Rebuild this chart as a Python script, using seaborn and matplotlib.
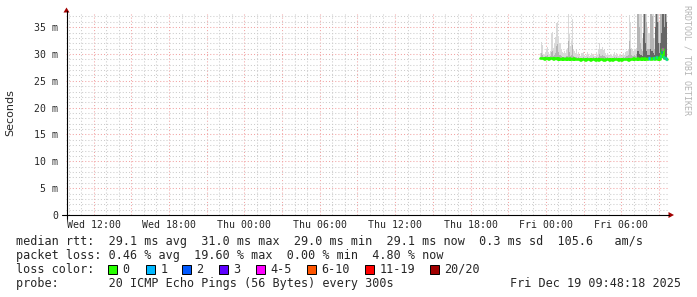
import numpy as np
import matplotlib
matplotlib.use("Agg")
import matplotlib.pyplot as plt
import seaborn as sns
from matplotlib.patches import Rectangle, Polygon
from matplotlib.lines import Line2D

# ---------------- data ----------------
# time axis in hours since Wed 00:00
x_start, x_end = 9.8, 57.8
tick_hours = [12, 15, 18, 21, 24, 27, 30, 33, 36, 39, 42, 45, 48, 51, 54, 57]
tick_labels = ["Wed 12:00", "", "Wed 18:00", "", "Thu 00:00", "", "Thu 06:00", "",
               "Thu 12:00", "", "Thu 18:00", "", "Fri 00:00", "", "Fri 06:00", ""]
y_ticks = [0, 5, 10, 15, 20, 25, 30, 35]
y_labels = ["0", "5 m", "10 m", "15 m", "20 m", "25 m", "30 m", "35 m"]
y_top = 37.45

first_sample = 47.5          # Thu 23:30
sample_step = 5 / 60         # 300 s

median = [29.2, 29.3, 29.2, 29.2, 29.1, 29.2, 29.3, 29.2, 29.1, 29.2, 29.2, 29.3,
          29.2, 29.1, 29.2, 29.3, 29.2, 29.1, 29.2, 29.0, 29.1, 29.2, 29.1, 29.0,
          29.1, 29.2, 29.0, 29.1, 29.2, 29.1, 29.0, 29.1, 29.2, 29.0, 29.1, 29.0,
          29.0, 29.1, 29.0, 28.9, 29.0, 29.1, 29.0, 28.9, 29.0, 29.0, 29.1, 29.0,
          28.9, 29.0, 29.0, 29.1, 29.0, 28.9, 29.0, 29.0, 28.9, 29.0, 29.1, 29.0,
          29.0, 28.9, 29.0, 29.0, 29.1, 29.0, 28.9, 29.0, 29.0, 28.9, 29.0, 29.0,
          29.0, 29.1, 29.0, 28.9, 29.0, 29.0, 28.9, 29.0, 29.0, 29.0, 29.1, 29.0,
          28.9, 29.0, 29.0, 29.1, 29.0, 29.2, 29.1, 29.0, 29.1, 29.2, 29.1, 29.0,
          29.1, 29.2, 29.1, 29.0, 29.2, 29.1, 29.0, 29.1, 29.2, 29.1, 29.0, 29.2,
          29.3, 29.1, 29.2, 29.4, 29.1, 29.2, 29.1, 29.6, 30.4, 31.0, 29.4, 29.2,
          29.2, 29.1]

smoke_max = [30.2, 32.3, 31.6, 30.0, 29.9, 30.4, 31.0, 31.3, 30.3, 30.0, 30.6, 33.9,
             34.1, 31.2, 32.0, 33.2, 35.7, 35.8, 33.4, 32.0, 31.0, 30.3, 30.1, 30.6,
             30.2, 30.8, 31.2, 37.8, 33.8, 31.5, 32.4, 36.5, 31.0, 30.5, 30.1, 30.7,
             30.0, 30.3, 29.8, 29.7, 30.1, 30.4, 29.8, 29.6, 29.9, 30.3, 30.0, 29.7,
             29.8, 30.2, 29.9, 30.0, 29.7, 29.6, 30.3, 29.9, 30.8, 32.0, 31.0, 30.8,
             31.3, 30.8, 30.2, 29.9, 30.1, 29.8, 29.7, 30.0, 29.9, 29.6, 30.0, 30.3,
             29.9, 30.1, 29.8, 29.7, 29.9, 30.0, 29.7, 29.8, 30.2, 29.9, 30.4, 30.6,
             31.0, 37.2, 36.0, 31.2, 30.8, 30.6, 31.0, 30.7, 31.2, 38.0, 38.0, 38.0,
             38.0, 38.0, 33.0, 38.0, 38.0, 38.0, 38.0, 35.0, 34.0, 38.0, 38.0, 38.0,
             38.0, 33.0, 38.0, 38.0, 38.0, 38.0, 36.0, 38.0, 38.0, 38.0, 38.0, 38.0,
             38.0, 38.0]

smoke_p90 = [29.5, 30.2, 29.9, 29.5, 29.4, 29.6, 29.7, 29.8, 29.5, 29.5, 29.6, 30.4,
             30.6, 29.7, 29.9, 30.2, 31.4, 31.8, 30.4, 29.9, 29.6, 29.5, 29.4, 29.5,
             29.5, 29.6, 29.7, 32.5, 30.4, 29.7, 29.9, 31.6, 29.6, 29.5, 29.4, 29.5,
             29.3, 29.4, 29.2, 29.2, 29.3, 29.4, 29.2, 29.1, 29.3, 29.4, 29.3, 29.2,
             29.2, 29.3, 29.3, 29.4, 29.2, 29.1, 29.4, 29.3, 29.5, 30.0, 29.7, 29.6,
             29.8, 29.6, 29.4, 29.3, 29.4, 29.2, 29.2, 29.3, 29.3, 29.1, 29.3, 29.5,
             29.3, 29.4, 29.2, 29.2, 29.3, 29.3, 29.2, 29.2, 29.4, 29.3, 29.5, 29.6,
             29.8, 32.5, 31.0, 29.9, 29.7, 29.7, 29.9, 29.7, 30.0, 38.0, 38.0, 35.0,
             32.0, 31.0, 30.5, 38.0, 38.0, 38.0, 36.0, 31.0, 31.0, 38.0, 38.0, 37.0,
             33.0, 31.0, 38.0, 38.0, 38.0, 36.0, 32.0, 38.0, 38.0, 38.0, 38.0, 38.0,
             38.0, 38.0]

smoke_p75 = [28.9, 28.9, 28.9, 28.9, 28.9, 28.9, 28.9, 28.9, 28.9, 28.9, 28.9, 28.9,
             28.9, 28.9, 28.9, 28.9, 28.9, 28.9, 28.9, 28.9, 28.9, 28.9, 28.9, 28.9,
             28.9, 28.9, 28.9, 28.9, 28.9, 28.9, 28.9, 28.9, 28.9, 28.9, 28.9, 28.9,
             28.9, 28.9, 28.9, 28.9, 28.9, 28.9, 28.9, 28.9, 28.9, 28.9, 28.9, 28.9,
             28.9, 28.9, 28.9, 28.9, 28.9, 28.9, 28.9, 28.9, 28.9, 28.9, 28.9, 28.9,
             28.9, 28.9, 28.9, 28.9, 28.9, 28.9, 28.9, 28.9, 28.9, 28.9, 28.9, 28.9,
             28.9, 28.9, 28.9, 28.9, 28.9, 28.9, 28.9, 28.9, 28.9, 28.9, 28.9, 28.9,
             28.9, 28.9, 28.9, 28.9, 28.9, 28.9, 28.9, 28.9, 28.9, 30.5, 30.5, 30.0,
             29.8, 29.8, 29.6, 34.0, 38.0, 32.0, 30.5, 29.8, 29.8, 31.0, 30.5, 30.5,
             30.2, 29.8, 35.0, 38.0, 36.0, 32.0, 30.2, 32.0, 34.0, 38.0, 38.0, 35.0,
             38.0, 36.0]

loss = [0, 0, 0, 0, 0, 0, 0, 0, 0, 0, 0, 0, 0, 0, 0, 0, 0, 0, 0, 0, 0, 0, 0, 0,
        0, 0, 0, 0, 0, 0, 0, 0, 0, 0, 0, 0, 0, 0, 0, 0, 0, 0, 0, 0, 0, 0, 0, 0,
        0, 0, 0, 0, 0, 0, 0, 0, 0, 0, 0, 0, 0, 0, 0, 0, 0, 0, 0, 0, 0, 0, 0, 0,
        0, 0, 0, 0, 0, 0, 0, 0, 0, 0, 0, 0, 0, 0, 0, 0, 0, 0, 0, 0, 0, 0, 0, 0,
        0, 0, 0, 0, 0, 0, 0, 0, 1, 0, 0, 0, 1, 0, 0, 1, 0, 0, 0, 1, 2, 4, 1, 0,
        1, 1]

loss_bins = [0, 1, 2, 3, 4, 6, 11, 20]
loss_names = ["0", "1", "2", "3", "4-5", "6-10", "11-19", "20/20"]
loss_colors = ["#26ff00", "#00b8ff", "#0059ff", "#5e00ff", "#ff00ff", "#ff5500", "#ff0000", "#a10000"]

legend_rows = [
    "median rtt:  29.1 ms avg  31.0 ms max  29.0 ms min  29.1 ms now  0.3 ms sd  105.6   am/s",
    "packet loss: 0.46 % avg  19.60 % max  0.00 % min  4.80 % now",
]
probe_text = "probe:       20 ICMP Echo Pings (56 Bytes) every 300s"
date_text = "Fri Dec 19 09:48:18 2025"

# ---------------- figure ----------------
sns.set_style("white")
plt.rcParams["font.family"] = ["DejaVu Sans Mono"]

W, H = 697, 297
fig = plt.figure(figsize=(W / 100, H / 100), dpi=100)
fig.patch.set_facecolor("white")


def fx(x):
    return x / W


def fy(y):
    return 1 - y / H


ax = fig.add_axes([fx(66), fy(215), (669 - 66) / W, (215 - 14) / H])
ax.set_facecolor("white")
for s in ax.spines.values():
    s.set_visible(False)

ax.set_xlim(x_start, x_end)
ax.set_ylim(0, y_top)
ax.set_xticks(tick_hours)
ax.set_xticklabels(tick_labels, fontsize=7.1, family="DejaVu Sans Mono")
ax.set_xticks(np.arange(10, 58, 1), minor=True)
ax.set_yticks(y_ticks)
ax.set_yticklabels(y_labels, fontsize=7.1, family="DejaVu Sans Mono")
ax.set_yticks(np.arange(1, 38, 1), minor=True)
ax.tick_params(which="both", length=0)
ax.tick_params(axis="x", pad=3.5)
ax.tick_params(axis="y", pad=5.5)
ax.set_axisbelow(True)
ax.grid(which="minor", color="#cccccc", linestyle=(0, (1, 2)), linewidth=0.75)
ax.grid(which="major", color="#f2a4a4", linestyle=(0, (1, 2)), linewidth=0.75)

# smoke
n = len(median)
t = first_sample + np.arange(n) * sample_step
med = np.array(median)
base = med - 0.1
ax.bar(t, np.array(smoke_max) - base, bottom=base, width=sample_step, align="edge",
       color="#d9d9d9", linewidth=0, zorder=2)
ax.bar(t, np.maximum(np.array(smoke_p90), base) - base, bottom=base, width=sample_step,
       align="edge", color="#b4b4b4", linewidth=0, zorder=2.1)
ax.bar(t, np.maximum(np.array(smoke_p75), base) - base, bottom=base, width=sample_step,
       align="edge", color="#666666", linewidth=0, zorder=2.2)

# median line
t_line = np.append(t, t[-1] + sample_step)
m_line = np.append(med, med[-1])
sns.lineplot(x=t_line, y=m_line, drawstyle="steps-post", color=loss_colors[0],
             linewidth=1.9, ax=ax, zorder=3, errorbar=None)


def loss_color(k):
    idx = 0
    for j, b in enumerate(loss_bins):
        if k >= b:
            idx = j
    return loss_colors[idx]


for ti, mi, li in zip(t, med, loss):
    if li > 0:
        ax.hlines(mi, ti, ti + sample_step, color=loss_color(li), linewidth=2.4, zorder=4)

ax.set_xlabel("")
ax.set_ylabel("")

# axes lines with arrows
fig.add_artist(Line2D([fx(62), fx(669)], [fy(215), fy(215)], color="black", linewidth=0.8))
fig.add_artist(Line2D([fx(66.5), fx(66.5)], [fy(219), fy(11)], color="black", linewidth=0.8))
fig.add_artist(Polygon([[fx(63.5), fy(12.5)], [fx(69.5), fy(12.5)], [fx(66.5), fy(7.5)]],
                       closed=True, color="#a10000", linewidth=0))
fig.add_artist(Polygon([[fx(668.5), fy(212)], [fx(668.5), fy(218)], [fx(674), fy(215)]],
                       closed=True, color="#a10000", linewidth=0))

# axis title + watermark
fig.text(fx(10), fy(113), "Seconds", rotation=90, ha="center", va="center",
         fontsize=8, family="DejaVu Sans")
fig.text(fx(686.5), fy(5), "RRDTOOL / TOBI OETIKER", rotation=270, ha="center", va="top",
         fontsize=6, color="#b4b4b4", family="DejaVu Sans Mono")

# legend text
fs = 8.5
fig.text(fx(16), fy(241.5), legend_rows[0], ha="left", va="center", fontsize=fs)
fig.text(fx(16), fy(255.5), legend_rows[1], ha="left", va="center", fontsize=fs)
fig.text(fx(16), fy(269.5), "loss color:", ha="left", va="center", fontsize=fs)
box_x = [108, 146, 182, 219, 256, 307, 365, 430]
for bx, name, col in zip(box_x, loss_names, loss_colors):
    fig.add_artist(Rectangle((fx(bx), fy(273.5)), 8.5 / W, 9 / H, facecolor=col,
                             edgecolor="black", linewidth=0.7))
    fig.text(fx(bx + 14.5), fy(269.5), name, ha="left", va="center", fontsize=fs)
fig.text(fx(16), fy(283.5), probe_text, ha="left", va="center", fontsize=fs)
fig.text(fx(681), fy(283.5), date_text, ha="right", va="center", fontsize=fs)

fig.savefig("out.png", dpi=100)
